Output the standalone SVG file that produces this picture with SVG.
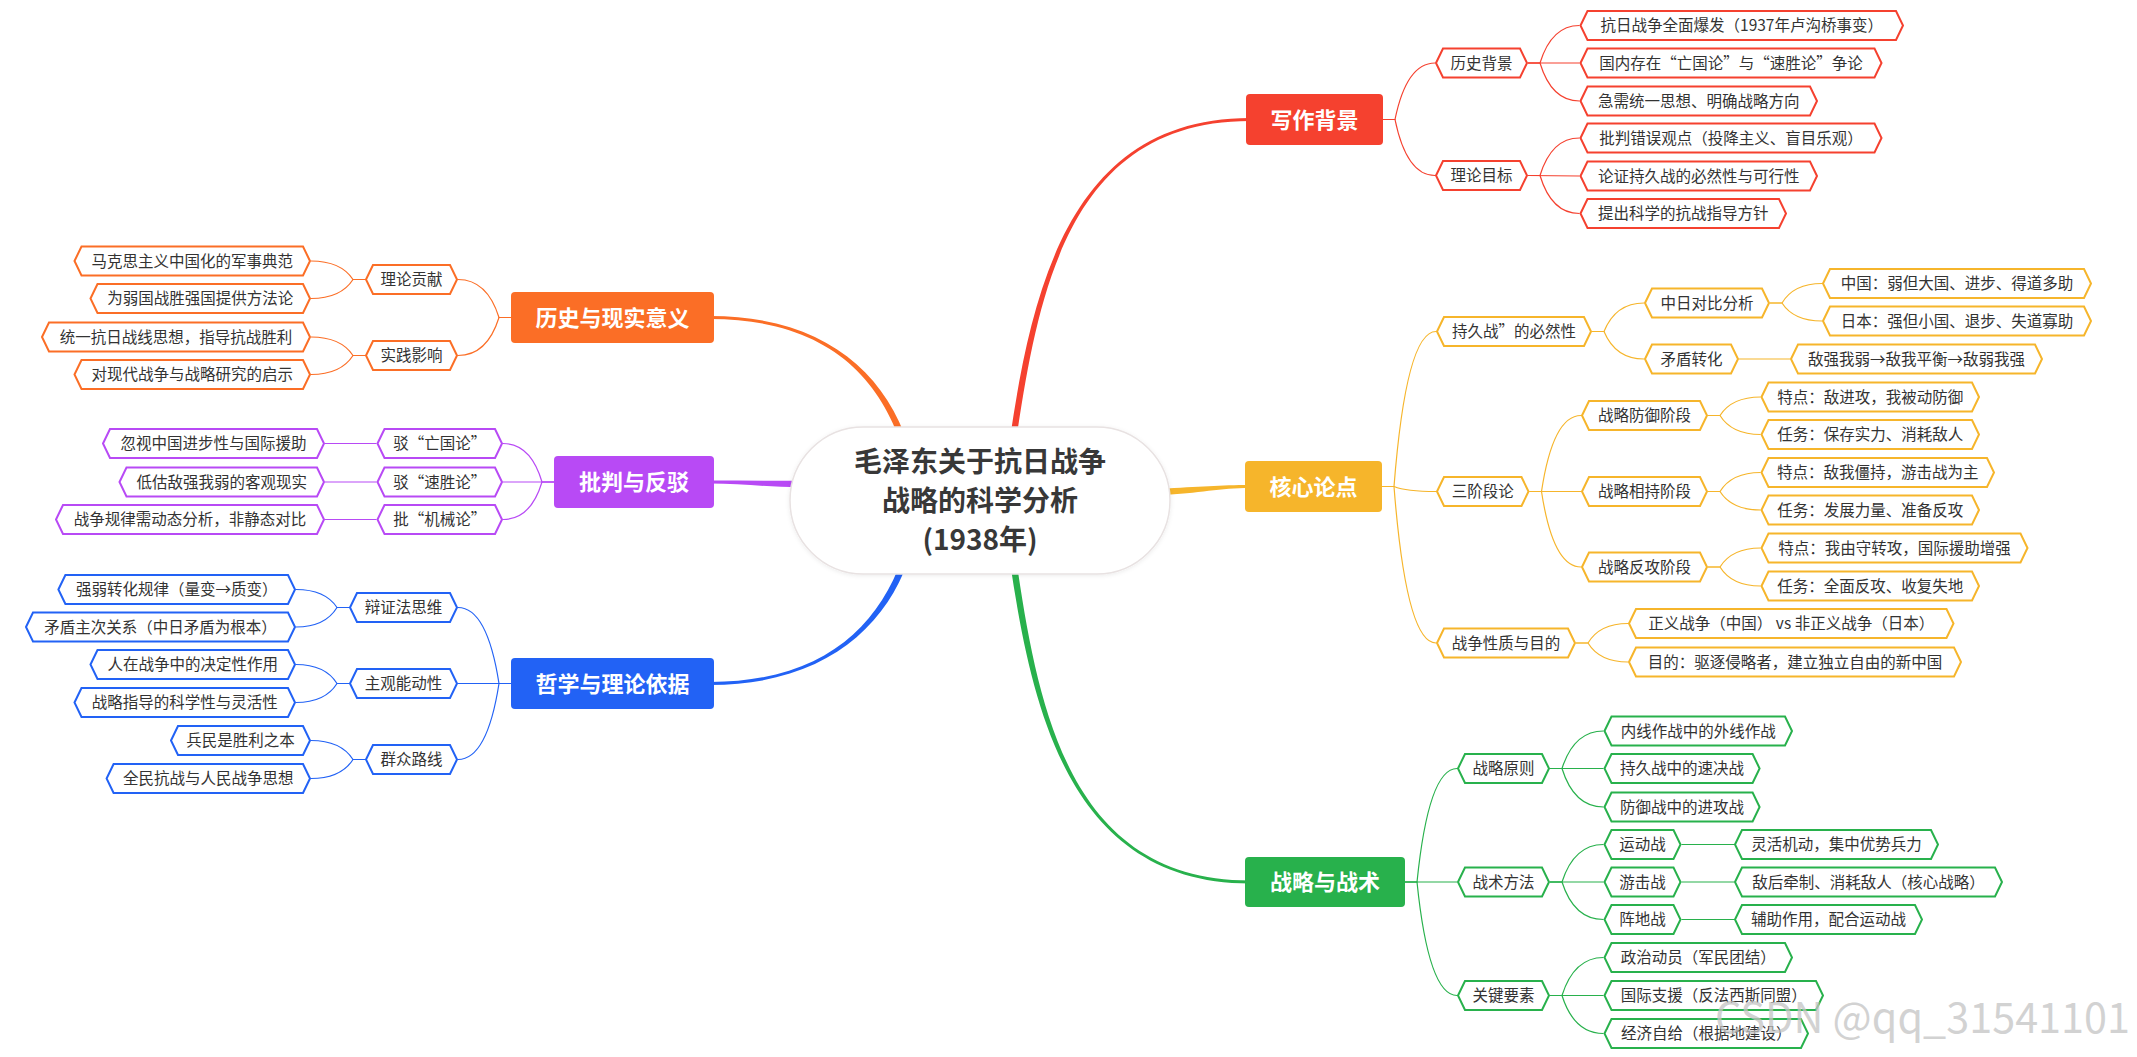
<svg xmlns="http://www.w3.org/2000/svg" width="2137" height="1057" viewBox="0 0 2137 1057">
<defs>
<filter id="sh" x="-10%" y="-20%" width="120%" height="140%"><feDropShadow dx="0" dy="1" stdDeviation="2" flood-color="#000" flood-opacity="0.08"/></filter>
</defs>
<style>
text{font-family:"Noto Sans CJK SC","Microsoft YaHei",sans-serif}
.t{font-size:15.5px;fill:#333;text-anchor:middle}
.m{font-size:22px;font-weight:bold;fill:#fff;text-anchor:middle}
.c{font-size:28px;font-weight:bold;fill:#383838;text-anchor:middle}
.n{fill:#fff;stroke-width:2;stroke-linejoin:miter}
.l{fill:none;stroke-width:1.2}
.R{stroke:#f5412f}.Y{stroke:#f6b52b}.G{stroke:#28b14c}.O{stroke:#fb6e26}.P{stroke:#b84af5}.B{stroke:#2262f5}
</style>
<rect width="2137" height="1057" fill="#fff"/>
<g id="connectors">
<path fill="#f5412f" d="M1016.2,440.5 C1038.2,290.5 1070,121 1250,121 L1250,118 C1070,118 1031.8,289.5 1009.8,439.5 Z"/>
<path fill="#f6b52b" d="M1160,495.2 C1200,493.2 1220,488 1250,488 L1250,485 C1220,485 1200,486.8 1160,488.8 Z"/>
<path fill="#28b14c" d="M1016.2,559.5 C1038.2,709.5 1070,880.5 1250,880.5 L1250,883.5 C1070,883.5 1031.8,710.5 1009.8,560.5 Z"/>
<path fill="#fb6e26" d="M908.1,444 C883.1,369 820,316 710,316 L710,319 C820,319 876.9,371 901.9,446 Z"/>
<path fill="#b84af5" d="M800,487.2 C770,487.2 740,483.5 710,483.5 L710,480.5 C740,480.5 770,480.8 800,480.8 Z"/>
<path fill="#2262f5" d="M908.1,561.1 C883.1,631.1 820,685 710,685 L710,682 C820,682 876.9,628.9 901.9,558.9 Z"/>
<g class="l R">
<path d="M1383,119.5 H1395 Q1406.6,63 1435,63"/>
<path d="M1383,119.5 H1395 Q1406.6,175.5 1435,175.5"/>
<path d="M1528,63 H1540 Q1551.5,25.5 1579.5,25.5"/>
<path d="M1528,63 H1579.5"/>
<path d="M1528,63 H1540 Q1551.5,101 1579.5,101"/>
<path d="M1528,175.5 H1540 Q1551.5,138 1579.5,138"/>
<path d="M1528,175.5 L1579.5,176"/>
<path d="M1528,175.5 H1540 Q1551.5,213.5 1579.5,213.5"/>
</g>
<g class="l Y">
<path d="M1382,486.5 H1394 Q1406.2,331.5 1436,331.5"/>
<path d="M1382,486.5 H1394 Q1406.2,491.5 1436,491.5"/>
<path d="M1382,486.5 H1394 Q1406.2,643 1436,643"/>
<path d="M1592,331.5 H1604 Q1615.6,303 1644,303"/>
<path d="M1592,331.5 H1604 Q1615.6,359 1644,359"/>
<path d="M1770,303 H1782 Q1793.6,283.5 1822,283.5"/>
<path d="M1770,303 H1782 Q1793.6,321 1822,321"/>
<path d="M1739,359 H1790"/>
<path d="M1529.5,491.5 H1541.5 Q1553,415.5 1581,415.5"/>
<path d="M1529.5,491.5 H1581"/>
<path d="M1529.5,491.5 H1541.5 Q1553,567 1581,567"/>
<path d="M1708,415.5 H1720 Q1731.8,397 1760.6,397"/>
<path d="M1708,415.5 H1720 Q1731.8,434.5 1760.6,434.5"/>
<path d="M1708,491.5 H1720 Q1731.8,472.5 1760.6,472.5"/>
<path d="M1708,491.5 H1720 Q1731.8,510 1760.6,510"/>
<path d="M1708,567 H1720 Q1731.8,548 1760.6,548"/>
<path d="M1708,567 H1720 Q1731.8,586 1760.6,586"/>
<path d="M1576,643 H1588 Q1599.6,623.5 1628,623.5"/>
<path d="M1576,643 H1588 Q1599.6,662 1628,662"/>
</g>
<g class="l G">
<path d="M1405,882 H1417 Q1428.6,768.5 1457,768.5"/>
<path d="M1405,882 H1457"/>
<path d="M1405,882 H1417 Q1428.6,995.5 1457,995.5"/>
<path d="M1550,768.5 H1562 Q1574,731 1603.5,731"/>
<path d="M1550,768.5 H1603.5"/>
<path d="M1550,768.5 H1562 Q1574,807 1603.5,807"/>
<path d="M1550,882 H1562 Q1574,844.5 1603.5,844.5"/>
<path d="M1550,882 H1603.5"/>
<path d="M1550,882 H1562 Q1574,919.5 1603.5,919.5"/>
<path d="M1681.5,844.5 H1734"/>
<path d="M1681.5,882 H1734"/>
<path d="M1681.5,919.5 H1734"/>
<path d="M1550,995.5 H1562 Q1574,957.5 1603.5,957.5"/>
<path d="M1550,995.5 H1603.5"/>
<path d="M1550,995.5 H1562 Q1574,1033.5 1603.5,1033.5"/>
</g>
<g class="l O">
<path d="M511,317.5 H499 Q487.1,279.5 458,279.5"/>
<path d="M511,317.5 H499 Q487.1,355.5 458,355.5"/>
<path d="M365,279.5 H353 Q340.8,261 311,261"/>
<path d="M365,279.5 H353 Q340.8,298.5 311,298.5"/>
<path d="M365,355.5 H353 Q340.8,337 311,337"/>
<path d="M365,355.5 H353 Q340.8,374.5 311,374.5"/>
</g>
<g class="l P">
<path d="M554,482 H542 Q530.7,443.5 503,443.5"/>
<path d="M554,482 H503"/>
<path d="M554,482 H542 Q530.7,519.5 503,519.5"/>
<path d="M376.5,443.5 H325"/>
<path d="M376.5,482 H325"/>
<path d="M376.5,519.5 H325"/>
</g>
<g class="l B">
<path d="M511,683.5 H499 Q487.1,607.5 458,607.5"/>
<path d="M511,683.5 H458"/>
<path d="M511,683.5 H499 Q487.1,759.5 458,759.5"/>
<path d="M349,607.5 H337 Q325.1,589.5 296,589.5"/>
<path d="M349,607.5 H337 Q325.1,627 296,627"/>
<path d="M349,683.5 H337 Q325.1,664.5 296,664.5"/>
<path d="M349,683.5 H337 Q325.1,702.5 296,702.5"/>
<path d="M365,759.5 H353 Q340.8,740.5 311,740.5"/>
<path d="M365,759.5 H353 Q340.8,778.5 311,778.5"/>
</g>
</g>

<g id="center">
<rect x="790" y="427" width="380" height="147" rx="73.5" fill="#fff" stroke="#e8e2e2" stroke-width="1.5" filter="url(#sh)"/>
<text class="c" x="980" y="472">毛泽东关于抗日战争</text>
<text class="c" x="980" y="511">战略的科学分析</text>
<text class="c" x="980" y="550">(1938年)</text>
</g>

<g id="main-xiezuo"><rect x="1246" y="94" width="137" height="51" rx="4" fill="#f5412f"/><text class="m" x="1314.5" y="127.5">写作背景</text></g>
<g id="main-hexin"><rect x="1245" y="461" width="137" height="51" rx="4" fill="#f6b52b"/><text class="m" x="1313.5" y="494.5">核心论点</text></g>
<g id="main-zhanlue"><rect x="1245" y="857" width="160" height="50" rx="4" fill="#28b14c"/><text class="m" x="1325" y="890">战略与战术</text></g>
<g id="main-lishi"><rect x="511" y="292" width="203" height="51" rx="4" fill="#fb6e26"/><text class="m" x="612.5" y="325.5">历史与现实意义</text></g>
<g id="main-pipan"><rect x="554" y="456" width="160" height="52" rx="4" fill="#b84af5"/><text class="m" x="634" y="490">批判与反驳</text></g>
<g id="main-zhexue"><rect x="511" y="658" width="203" height="51" rx="4" fill="#2262f5"/><text class="m" x="612.5" y="691.5">哲学与理论依据</text></g>

<g id="red-nodes">
<g id="n-lsbj"><polygon class="n R" points="1436,63 1443,48.5 1520,48.5 1527,63 1520,77.5 1443,77.5"/><text class="t" x="1481.5" y="68.5">历史背景</text></g>
<g id="n-llmb"><polygon class="n R" points="1436,175.5 1443,161 1520,161 1527,175.5 1520,190 1443,190"/><text class="t" x="1481.5" y="181">理论目标</text></g>
<g id="n-r1"><polygon class="n R" points="1580.5,25.5 1587.5,11 1896,11 1903,25.5 1896,40 1587.5,40"/><text class="t" x="1741.75" y="31">抗日战争全面爆发（1937年卢沟桥事变）</text></g>
<g id="n-r2"><polygon class="n R" points="1580.5,63 1587.5,48.5 1874.5,48.5 1881.5,63 1874.5,77.5 1587.5,77.5"/><text class="t" x="1731" y="68.5">国内存在“亡国论”与“速胜论”争论</text></g>
<g id="n-r3"><polygon class="n R" points="1580.5,101 1587.5,86.5 1810,86.5 1817,101 1810,115.5 1587.5,115.5"/><text class="t" x="1698.75" y="106.5">急需统一思想、明确战略方向</text></g>
<g id="n-r4"><polygon class="n R" points="1580.5,138 1587.5,123.5 1874.5,123.5 1881.5,138 1874.5,152.5 1587.5,152.5"/><text class="t" x="1731" y="143.5">批判错误观点（投降主义、盲目乐观）</text></g>
<g id="n-r5"><polygon class="n R" points="1580.5,176 1587.5,161.5 1810,161.5 1817,176 1810,190.5 1587.5,190.5"/><text class="t" x="1698.75" y="181.5">论证持久战的必然性与可行性</text></g>
<g id="n-r6"><polygon class="n R" points="1580.5,213.5 1587.5,199 1779,199 1786,213.5 1779,228 1587.5,228"/><text class="t" x="1683.25" y="219">提出科学的抗战指导方针</text></g>
</g>

<g id="yellow-nodes">
<g id="n-cjz"><polygon class="n Y" points="1437,331.5 1444,317 1584,317 1591,331.5 1584,346 1444,346"/><text class="t" x="1514" y="337">持久战”的必然性</text></g>
<g id="n-zrdb"><polygon class="n Y" points="1645,303 1652,288.5 1762,288.5 1769,303 1762,317.5 1652,317.5"/><text class="t" x="1707" y="308.5">中日对比分析</text></g>
<g id="n-zg"><polygon class="n Y" points="1823,283.5 1830,269 2084,269 2091,283.5 2084,298 1830,298"/><text class="t" x="1957" y="289">中国：弱但大国、进步、得道多助</text></g>
<g id="n-rb"><polygon class="n Y" points="1823,321 1830,306.5 2084,306.5 2091,321 2084,335.5 1830,335.5"/><text class="t" x="1957" y="326.5">日本：强但小国、退步、失道寡助</text></g>
<g id="n-mdzh"><polygon class="n Y" points="1645,359 1652,344.5 1731,344.5 1738,359 1731,373.5 1652,373.5"/><text class="t" x="1691.5" y="364.5">矛盾转化</text></g>
<g id="n-dqwr"><polygon class="n Y" points="1791,359 1798,344.5 2035,344.5 2042,359 2035,373.5 1798,373.5"/><text class="t" x="1916.5" y="364.5">敌强我弱→敌我平衡→敌弱我强</text></g>
<g id="n-sjdl"><polygon class="n Y" points="1437,491.5 1444,477 1521.5,477 1528.5,491.5 1521.5,506 1444,506"/><text class="t" x="1482.75" y="497">三阶段论</text></g>
<g id="n-fy"><polygon class="n Y" points="1582,415.5 1589,401 1700,401 1707,415.5 1700,430 1589,430"/><text class="t" x="1644.5" y="421">战略防御阶段</text></g>
<g id="n-fy1"><polygon class="n Y" points="1761.5,397 1768.5,382.5 1972,382.5 1979,397 1972,411.5 1768.5,411.5"/><text class="t" x="1870.3" y="402.5">特点：敌进攻，我被动防御</text></g>
<g id="n-fy2"><polygon class="n Y" points="1761.5,434.5 1768.5,420 1972,420 1979,434.5 1972,449 1768.5,449"/><text class="t" x="1870.3" y="440">任务：保存实力、消耗敌人</text></g>
<g id="n-xc"><polygon class="n Y" points="1582,491.5 1589,477 1700,477 1707,491.5 1700,506 1589,506"/><text class="t" x="1644.5" y="497">战略相持阶段</text></g>
<g id="n-xc1"><polygon class="n Y" points="1761.5,472.5 1768.5,458 1987,458 1994,472.5 1987,487 1768.5,487"/><text class="t" x="1877.8" y="478">特点：敌我僵持，游击战为主</text></g>
<g id="n-xc2"><polygon class="n Y" points="1761.5,510 1768.5,495.5 1972,495.5 1979,510 1972,524.5 1768.5,524.5"/><text class="t" x="1870.3" y="515.5">任务：发展力量、准备反攻</text></g>
<g id="n-fg"><polygon class="n Y" points="1582,567 1589,552.5 1700,552.5 1707,567 1700,581.5 1589,581.5"/><text class="t" x="1644.5" y="572.5">战略反攻阶段</text></g>
<g id="n-fg1"><polygon class="n Y" points="1761.5,548 1768.5,533.5 2020.5,533.5 2027.5,548 2020.5,562.5 1768.5,562.5"/><text class="t" x="1894.5" y="553.5">特点：我由守转攻，国际援助增强</text></g>
<g id="n-fg2"><polygon class="n Y" points="1761.5,586 1768.5,571.5 1972,571.5 1979,586 1972,600.5 1768.5,600.5"/><text class="t" x="1870.3" y="591.5">任务：全面反攻、收复失地</text></g>
<g id="n-xz"><polygon class="n Y" points="1437,643 1444,628.5 1568,628.5 1575,643 1568,657.5 1444,657.5"/><text class="t" x="1506" y="648.5">战争性质与目的</text></g>
<g id="n-xz1"><polygon class="n Y" points="1629,623.5 1636,609 1946.5,609 1953.5,623.5 1946.5,638 1636,638"/><text class="t" x="1791.25" y="629">正义战争（中国） vs 非正义战争（日本）</text></g>
<g id="n-xz2"><polygon class="n Y" points="1629,662 1636,647.5 1954,647.5 1961,662 1954,676.5 1636,676.5"/><text class="t" x="1795" y="667.5">目的：驱逐侵略者，建立独立自由的新中国</text></g>
</g>

<g id="green-nodes">
<g id="n-zlyz"><polygon class="n G" points="1458,768.5 1465,754 1542,754 1549,768.5 1542,783 1465,783"/><text class="t" x="1503.5" y="774">战略原则</text></g>
<g id="n-g1"><polygon class="n G" points="1604.5,731 1611.5,716.5 1785,716.5 1792,731 1785,745.5 1611.5,745.5"/><text class="t" x="1698.25" y="736.5">内线作战中的外线作战</text></g>
<g id="n-g2"><polygon class="n G" points="1604.5,768.5 1611.5,754 1752.6,754 1759.6,768.5 1752.6,783 1611.5,783"/><text class="t" x="1682" y="774">持久战中的速决战</text></g>
<g id="n-g3"><polygon class="n G" points="1604.5,807 1611.5,792.5 1752.6,792.5 1759.6,807 1752.6,821.5 1611.5,821.5"/><text class="t" x="1682" y="812.5">防御战中的进攻战</text></g>
<g id="n-zsff"><polygon class="n G" points="1458,882 1465,867.5 1542,867.5 1549,882 1542,896.5 1465,896.5"/><text class="t" x="1503.5" y="887.5">战术方法</text></g>
<g id="n-ydz"><polygon class="n G" points="1604.5,844.5 1611.5,830 1673.5,830 1680.5,844.5 1673.5,859 1611.5,859"/><text class="t" x="1642.5" y="850">运动战</text></g>
<g id="n-ydz1"><polygon class="n G" points="1735,844.5 1742,830 1931,830 1938,844.5 1931,859 1742,859"/><text class="t" x="1836.5" y="850">灵活机动，集中优势兵力</text></g>
<g id="n-yjz"><polygon class="n G" points="1604.5,882 1611.5,867.5 1673.5,867.5 1680.5,882 1673.5,896.5 1611.5,896.5"/><text class="t" x="1642.5" y="887.5">游击战</text></g>
<g id="n-yjz1"><polygon class="n G" points="1735,882 1742,867.5 1995,867.5 2002,882 1995,896.5 1742,896.5"/><text class="t" x="1868.5" y="887.5">敌后牵制、消耗敌人（核心战略）</text></g>
<g id="n-zdz"><polygon class="n G" points="1604.5,919.5 1611.5,905 1673.5,905 1680.5,919.5 1673.5,934 1611.5,934"/><text class="t" x="1642.5" y="925">阵地战</text></g>
<g id="n-zdz1"><polygon class="n G" points="1735,919.5 1742,905 1915,905 1922,919.5 1915,934 1742,934"/><text class="t" x="1828.5" y="925">辅助作用，配合运动战</text></g>
<g id="n-gjys"><polygon class="n G" points="1458,995.5 1465,981 1542,981 1549,995.5 1542,1010 1465,1010"/><text class="t" x="1503.5" y="1001">关键要素</text></g>
<g id="n-k1"><polygon class="n G" points="1604.5,957.5 1611.5,943 1785,943 1792,957.5 1785,972 1611.5,972"/><text class="t" x="1698.25" y="963">政治动员（军民团结）</text></g>
<g id="n-k2"><polygon class="n G" points="1604.5,995.5 1611.5,981 1816,981 1823,995.5 1816,1010 1611.5,1010"/><text class="t" x="1713.75" y="1001">国际支援（反法西斯同盟）</text></g>
<g id="n-k3"><polygon class="n G" points="1604.5,1033.5 1611.5,1019 1801,1019 1808,1033.5 1801,1048 1611.5,1048"/><text class="t" x="1706.25" y="1039">经济自给（根据地建设）</text></g>
</g>

<g id="orange-nodes">
<g id="n-llgx"><polygon class="n O" points="366,279.5 373,265 450,265 457,279.5 450,294 373,294"/><text class="t" x="411.5" y="285">理论贡献</text></g>
<g id="n-o1"><polygon class="n O" points="74.5,261 81.5,246.5 303,246.5 310,261 303,275.5 81.5,275.5"/><text class="t" x="192.25" y="266.5">马克思主义中国化的军事典范</text></g>
<g id="n-o2"><polygon class="n O" points="90.5,298.5 97.5,284 303,284 310,298.5 303,313 97.5,313"/><text class="t" x="200.25" y="304">为弱国战胜强国提供方法论</text></g>
<g id="n-sjyx"><polygon class="n O" points="366,355.5 373,341 450,341 457,355.5 450,370 373,370"/><text class="t" x="411.5" y="361">实践影响</text></g>
<g id="n-o3"><polygon class="n O" points="42,337 49,322.5 303,322.5 310,337 303,351.5 49,351.5"/><text class="t" x="176" y="342.5">统一抗日战线思想，指导抗战胜利</text></g>
<g id="n-o4"><polygon class="n O" points="74.5,374.5 81.5,360 303,360 310,374.5 303,389 81.5,389"/><text class="t" x="192.25" y="380">对现代战争与战略研究的启示</text></g>
</g>

<g id="purple-nodes">
<g id="n-bwg"><polygon class="n P" points="377.5,443.5 384.5,429 495,429 502,443.5 495,458 384.5,458"/><text class="t" x="439.75" y="449">驳“亡国论”</text></g>
<g id="n-p1"><polygon class="n P" points="103,443.5 110,429 317,429 324,443.5 317,458 110,458"/><text class="t" x="213.5" y="449">忽视中国进步性与国际援助</text></g>
<g id="n-bss"><polygon class="n P" points="377.5,482 384.5,467.5 495,467.5 502,482 495,496.5 384.5,496.5"/><text class="t" x="439.75" y="487.5">驳“速胜论”</text></g>
<g id="n-p2"><polygon class="n P" points="119.5,482 126.5,467.5 317,467.5 324,482 317,496.5 126.5,496.5"/><text class="t" x="221.75" y="487.5">低估敌强我弱的客观现实</text></g>
<g id="n-pjx"><polygon class="n P" points="377.5,519.5 384.5,505 495,505 502,519.5 495,534 384.5,534"/><text class="t" x="439.75" y="525">批“机械论”</text></g>
<g id="n-p3"><polygon class="n P" points="56,519.5 63,505 317,505 324,519.5 317,534 63,534"/><text class="t" x="190" y="525">战争规律需动态分析，非静态对比</text></g>
</g>

<g id="blue-nodes">
<g id="n-bzf"><polygon class="n B" points="350,607.5 357,593 450,593 457,607.5 450,622 357,622"/><text class="t" x="403.5" y="613">辩证法思维</text></g>
<g id="n-b1"><polygon class="n B" points="58.4,589.5 65.4,575 288,575 295,589.5 288,604 65.4,604"/><text class="t" x="176.7" y="595">强弱转化规律（量变→质变）</text></g>
<g id="n-b2"><polygon class="n B" points="26,627 33,612.5 288,612.5 295,627 288,641.5 33,641.5"/><text class="t" x="160.5" y="632.5">矛盾主次关系（中日矛盾为根本）</text></g>
<g id="n-zgnd"><polygon class="n B" points="350,683.5 357,669 450,669 457,683.5 450,698 357,698"/><text class="t" x="403.5" y="689">主观能动性</text></g>
<g id="n-b3"><polygon class="n B" points="90.5,664.5 97.5,650 288,650 295,664.5 288,679 97.5,679"/><text class="t" x="192.75" y="670">人在战争中的决定性作用</text></g>
<g id="n-b4"><polygon class="n B" points="74.5,702.5 81.5,688 288,688 295,702.5 288,717 81.5,717"/><text class="t" x="184.75" y="708">战略指导的科学性与灵活性</text></g>
<g id="n-qzlx"><polygon class="n B" points="366,759.5 373,745 450,745 457,759.5 450,774 373,774"/><text class="t" x="411.5" y="765">群众路线</text></g>
<g id="n-b5"><polygon class="n B" points="171,740.5 178,726 303,726 310,740.5 303,755 178,755"/><text class="t" x="240.5" y="746">兵民是胜利之本</text></g>
<g id="n-b6"><polygon class="n B" points="106.6,778.5 113.6,764 303,764 310,778.5 303,793 113.6,793"/><text class="t" x="208.3" y="784">全民抗战与人民战争思想</text></g>
</g>

<text x="1715" y="1033" font-family="Liberation Sans, Arial, sans-serif" font-size="42" textLength="415" lengthAdjust="spacingAndGlyphs" fill="#c4c4c4" fill-opacity="0.75">CSDN @qq_31541101</text>
</svg>
